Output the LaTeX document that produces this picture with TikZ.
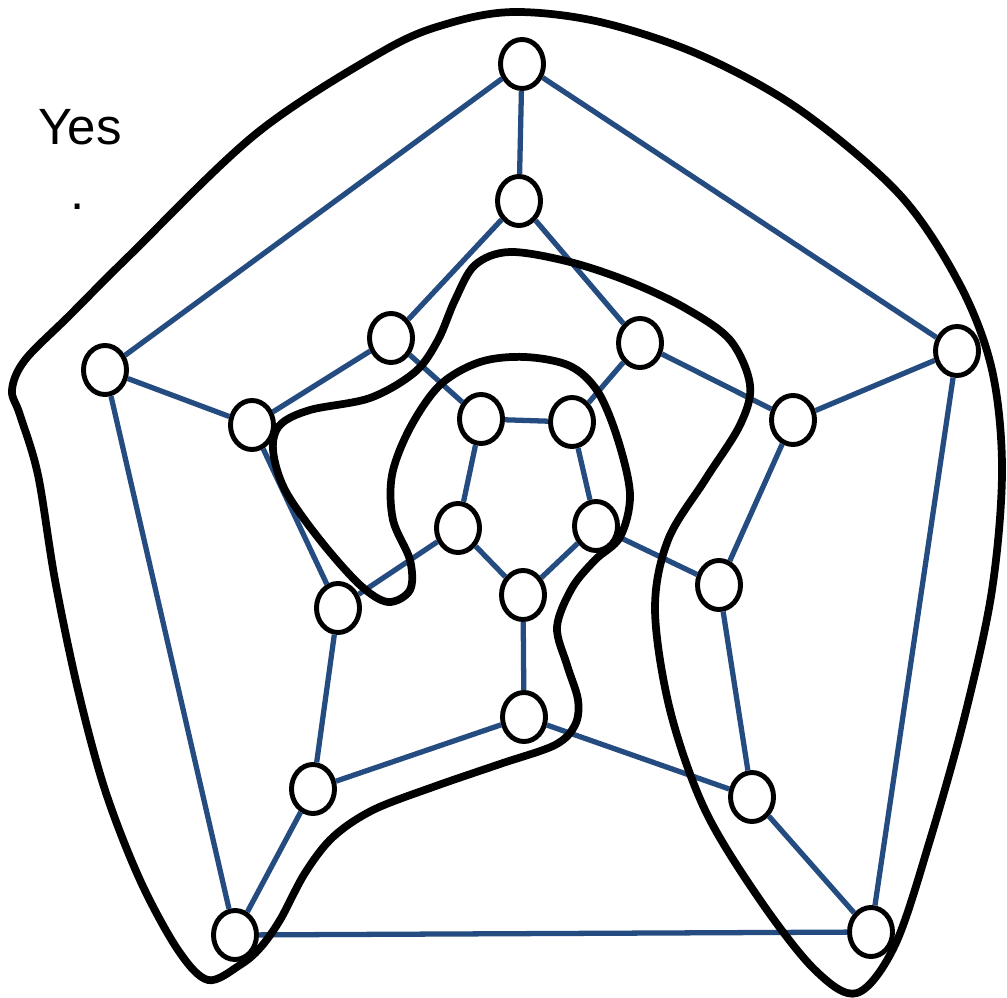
\documentclass[tikz,border=0pt]{standalone}
\usepackage{fontspec}
\setmainfont{Liberation Sans}
\usepackage{tikz}
\usetikzlibrary{shapes.geometric}
\definecolor{edgeblue}{RGB}{36,76,128}
\tikzstyle{vtx}=[ellipse,draw=black,fill=white,line width=1.4pt,minimum width=0.43cm,minimum height=0.49cm,inner sep=0pt]
\tikzstyle{edg}=[draw=edgeblue,line width=1.5pt]
\tikzstyle{cyc}=[draw=black,line width=2.2pt,line join=round]
\begin{document}
\begin{tikzpicture}[x=0.01cm,y=-0.01cm]
        \useasboundingbox (0,0) rectangle (1007,998);
        \node[font=\fontsize{14.5}{17}\selectfont,anchor=base] (yes) at (80,145) {Yes};
        \node[font=\fontsize{14.5}{17}\selectfont,anchor=base] (dot) at (78,210) {.};
        % outer pentagon
        \node[vtx] (O1) at (522,64) {};
        \node[vtx] (O2) at (957,351) {};
        \node[vtx] (O3) at (871,932) {};
        \node[vtx] (O4) at (235,935) {};
        \node[vtx] (O5) at (105,370) {};
        % second ring
        \node[vtx] (M1) at (519,201) {};
        \node[vtx] (M2) at (793,420) {};
        \node[vtx] (M3) at (752,797) {};
        \node[vtx] (M4) at (313,789) {};
        \node[vtx] (M5) at (252,425) {};
        % third ring
        \node[vtx] (N1) at (391,338) {};
        \node[vtx] (N2) at (640,343) {};
        \node[vtx] (N3) at (719,585) {};
        \node[vtx] (N4) at (524,717) {};
        \node[vtx] (N5) at (338,608) {};
        % inner pentagon
        \node[vtx] (I1) at (481,419) {};
        \node[vtx] (I2) at (572,422) {};
        \node[vtx] (I3) at (596,526) {};
        \node[vtx] (I4) at (523,595) {};
        \node[vtx] (I5) at (458,528) {};
        \draw[edg] (O1) -- (O2);
        \draw[edg] (O2) -- (O3);
        \draw[edg] (O3) -- (O4);
        \draw[edg] (O4) -- (O5);
        \draw[edg] (O5) -- (O1);
        \draw[edg] (O1) -- (M1);
        \draw[edg] (O2) -- (M2);
        \draw[edg] (O3) -- (M3);
        \draw[edg] (O4) -- (M4);
        \draw[edg] (O5) -- (M5);
        \draw[edg] (M1) -- (N1);
        \draw[edg] (M1) -- (N2);
        \draw[edg] (M2) -- (N2);
        \draw[edg] (M2) -- (N3);
        \draw[edg] (M3) -- (N3);
        \draw[edg] (M3) -- (N4);
        \draw[edg] (M4) -- (N4);
        \draw[edg] (M4) -- (N5);
        \draw[edg] (M5) -- (N5);
        \draw[edg] (M5) -- (N1);
        \draw[edg] (N1) -- (I1);
        \draw[edg] (N2) -- (I2);
        \draw[edg] (N3) -- (I3);
        \draw[edg] (N4) -- (I4);
        \draw[edg] (N5) -- (I5);
        \draw[edg] (I1) -- (I2);
        \draw[edg] (I2) -- (I3);
        \draw[edg] (I3) -- (I4);
        \draw[edg] (I4) -- (I5);
        \draw[edg] (I5) -- (I1);
        % the cycle
        \draw[cyc] plot[smooth cycle,tension=0.55] coordinates {
          (515,12) (600,22) (700,55) (800,110) (900,195) (960,285) (992,370)
          (1002,470) (992,590) (965,715) (930,840) (895,945) (857,993) (815,970)
          (760,900) (705,810) (670,710) (655,610) (668,540) (705,480) (740,425)
          (750,385) (730,340) (685,308) (630,282) (570,262) (510,252) (475,265)
          (455,300) (438,340) (415,372) (370,398) (310,410) (280,425) (273,450)
          (285,490) (320,540) (360,585) (388,602) (410,590) (410,560) (393,520)
          (392,475) (410,428) (440,385) (480,362) (525,357) (570,366) (598,392)
          (618,440) (630,495) (620,537) (595,560) (572,588) (557,627) (567,665)
          (578,700) (575,725) (555,745) (500,764) (433,787) (373,810) (333,837)
          (305,873) (280,920) (260,948) (240,965) (208,980) (178,950)
          (140,880) (105,790) (78,690) (55,580) (38,475) (20,415)
          (12,390) (25,360) (70,315) (130,255) (257,133) (385,50) (450,23)};
      \end{tikzpicture}
\end{document}
